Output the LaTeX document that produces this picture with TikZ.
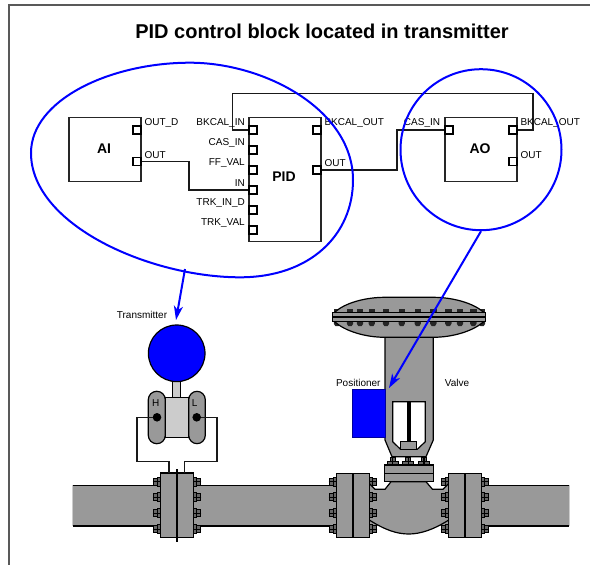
\documentclass[tikz,border=0pt]{standalone}
\usepackage{fontspec}
\setmainfont{Liberation Sans}
\definecolor{steel}{HTML}{999999}
\definecolor{lightsteel}{HTML}{CCCCCC}
\definecolor{boltgrey}{HTML}{666666}
\tikzset{
  fblock/.style={draw=black!85,fill=white,line width=1.2pt,inner sep=0pt,minimum width=72pt},
  port/.style={draw=black,fill=white,line width=1.1pt,inner sep=0pt,minimum size=8pt},
  wire/.style={draw=black!90,line width=1.2pt},
  blocktitle/.style={font=\fontsize{14}{14}\selectfont\bfseries,inner sep=0pt},
  lblL/.style={font=\fontsize{10}{10}\selectfont,anchor=east,inner sep=0pt},
  lblR/.style={font=\fontsize{10}{10}\selectfont,anchor=west,inner sep=0pt},
  plain/.style={font=\fontsize{10}{10}\selectfont,inner sep=0pt},
  blueline/.style={draw=blue,line width=2pt},
  bluearrow/.style={draw=blue,line width=2pt,-{Stealth[length=14pt,width=9pt,inset=4pt]}},
  metal/.style={draw=black,fill=steel,line width=1.2pt},
  sidebolt/.pic={
    \draw[black,line width=1.2pt,fill=boltgrey] (0,-4.5) rectangle (-3.5,4.5);
    \draw[black,line width=1.2pt,fill=boltgrey] (-3.5,-3.5) rectangle (-7.5,3.5);
    \draw[black,line width=1.2pt] (-8,0) -- (0,0);
  },
  topbolt/.pic={
    \draw[black,line width=1.1pt,fill=boltgrey] (-5.5,0) rectangle (5.5,-3.5);
    \draw[black,line width=1.1pt,fill=boltgrey] (-2.5,-3.5) rectangle (2.5,-7.5);
    \draw[black,line width=1.1pt] (0,-8) -- (0,0);
  },
  diabolt/.pic={
    \fill[black!85] (-3.2,-3.8) rectangle (3.2,-1.2);
    \fill[black!85] (-1.2,-1.5) rectangle (1.2,0);
    \fill[black!85] (-3.2,8.6) -- (3.2,8.6) -- (3.2,11) -- (1.6,13.5) -- (-1.6,13.5) -- (-3.2,11) -- cycle;
  },
}
\usetikzlibrary{arrows.meta}
\begin{document}
\begin{tikzpicture}[x=1pt,y=-1pt]
\useasboundingbox (0,0) rectangle (590,565);
% frame
\draw[black!65,line width=2pt] (8.5,565) -- (8.5,5) -- (590,5);
\node[font=\fontsize{20}{20}\selectfont\bfseries,inner sep=0pt] (title) at (322,31.5) {PID control block located in transmitter};

% function blocks
\node[fblock,minimum height=64pt] (ai) at (105,149.8) {};
\node[fblock,minimum height=124pt] (pid) at (285,179.8) {};
\node[fblock,minimum height=64pt] (ao) at (481,149.8) {};
\node[blocktitle] (aitxt) at (104,149) {AI};
\node[blocktitle] (pidtxt) at (284,177) {PID};
\node[blocktitle] (aotxt) at (480,149) {AO};

% ports
\node[port] (aiD) at (137,130) {};
\node[port] (aiO) at (137,161.7) {};
\node[port] (pidBK) at (253,130) {};
\node[port] (pidCAS) at (253,150) {};
\node[port] (pidFF) at (253,170) {};
\node[port] (pidIN) at (253,190) {};
\node[port] (pidTD) at (253,210) {};
\node[port] (pidTV) at (253,230) {};
\node[port] (pidBO) at (317,130) {};
\node[port] (pidO) at (317,170) {};
\node[port] (aoCAS) at (449,130) {};
\node[port] (aoBO) at (513,130) {};
\node[port] (aoO) at (513,161.7) {};

% wires
\coordinate (w1a) at (189,161.7);
\coordinate (w1b) at (189,190);
\draw[wire] (aiO.east) -- (w1a) -- (w1b) -- (pidIN.west);
\coordinate (w2a) at (397,170);
\coordinate (w2b) at (397,130);
\draw[wire] (pidO.east) -- (w2a) -- (w2b) -- (aoCAS.west);
\coordinate (w3a) at (533,130);
\coordinate (w3b) at (533,93.5);
\coordinate (w3c) at (232.7,93.5);
\coordinate (w3d) at (232.7,130);
\draw[wire] (aoBO.east) -- (w3a) -- (w3b) -- (w3c) -- (w3d) -- (pidBK.west);

% labels
\node[lblR] (l1) at (144.3,122.7) {OUT\_D};
\node[lblR] (l2) at (144.3,154.7) {OUT};
\node[lblL] (l3) at (245,122.7) {BKCAL\_IN};
\node[lblL] (l4) at (245,142.7) {CAS\_IN};
\node[lblL] (l5) at (245,162.7) {FF\_VAL};
\node[lblL] (l6) at (245,182.7) {IN};
\node[lblL] (l7) at (245,202.7) {TRK\_IN\_D};
\node[lblL] (l8) at (245,222.7) {TRK\_VAL};
\node[lblR] (l9) at (324.3,122.7) {BKCAL\_OUT};
\node[lblR] (l10) at (324.3,162.7) {OUT};
\node[lblL] (l11) at (440.3,122.7) {CAS\_IN};
\node[lblR] (l12) at (520.3,122.7) {BKCAL\_OUT};
\node[lblR] (l13) at (520.3,154.7) {OUT};

% pipe
\fill[steel] (72.7,485.3) rectangle (569,526);
\draw[black,line width=1.2pt] (72.7,485.3) -- (369,485.3);
\draw[black,line width=1.2pt] (448,485.3) -- (569,485.3);
\draw[black,line width=1.2pt] (72.7,526) -- (369,526);
\draw[black,line width=1.2pt] (448,526) -- (569,526);
\draw[lightsteel,line width=.8pt] (72.7,485.3) -- (72.7,526);
\draw[lightsteel,line width=.8pt] (569,485.3) -- (569,526);

% orifice flange bolts
\foreach \yy in {481.7,497.3,513.3,529.3}{
  \pic at (160.7,\yy) {sidebolt};
  \pic[xscale=-1] at (193.3,\yy) {sidebolt};
  \pic at (336.7,\yy) {sidebolt};
  \pic at (448.7,\yy) {sidebolt};
  \pic[xscale=-1] at (369.3,\yy) {sidebolt};
  \pic[xscale=-1] at (481.3,\yy) {sidebolt};
}
% orifice flange
\draw[metal] (160.7,473) rectangle (193.3,537.7);
\draw[black,line width=2.2pt] (177,469) -- (177,542);

% valve body: white notch, then body
\fill[white] (369.8,473) rectangle (448.2,489);
\pic[xscale=-1] at (369.3,481.7) {sidebolt};
\pic at (448.7,481.7) {sidebolt};
\draw[metal] (369.3,483.5) -- (375,489.3) -- (385,489.3) -- (391,481.7) -- (426,481.7) -- (432.5,489.3) -- (443,489.3) -- (448.7,483.5)
  -- (448.7,520) .. controls (433,530) and (420,534) .. (408.7,534) .. controls (397,534) and (385,530) .. (369.3,520) -- cycle;
\foreach \yy in {497.3,513.3,529.3}{
  \pic[xscale=-1] at (369.3,\yy) {sidebolt};
  \pic at (448.7,\yy) {sidebolt};
}
% valve flanges
\draw[metal] (336.7,473.3) rectangle (369.3,537.7);
\draw[black,line width=1.2pt] (353,473.3) -- (353,537.7);
\draw[metal] (448.7,473.3) rectangle (481.3,537.7);
\draw[black,line width=1.2pt] (465,473.3) -- (465,537.7);

% bonnet
\foreach \xx in {392.7,408.3,424}{ \pic at (\xx,465) {topbolt}; }
\draw[metal] (384.3,465) rectangle (433.3,481.7);
\draw[black,line width=1.2pt] (384.3,473.3) -- (433.3,473.3);

% yoke
\draw[metal] (385,337.3) -- (433.3,337.3) -- (433.3,440) -- (426,456.7) -- (392,456.7) -- (385,440) -- cycle;
\draw[black,fill=white,line width=1.2pt] (392.7,401.7) -- (425.3,401.7) -- (425.3,441.7) -- (417.3,449.3) -- (400.5,449.3) -- (392.7,441.7) -- cycle;
\fill[black] (406.7,401.7) rectangle (411,442);
\draw[metal] (400.7,441.7) rectangle (416.7,449.3);

% diaphragm
\foreach \xx in {337,350,360,371.7,386,401.7,417.7,433.3,448.3,460,473.3,482}{
  \pic at (\xx,312.7) {diabolt};
}
\draw[metal] (335,312) .. controls (345,303) and (365,297.3) .. (385,297.3) -- (433,297.3) .. controls (453,297.3) and (473,303) .. (483.3,312)
  -- (483.3,322) .. controls (473,331) and (453,337.3) .. (433,337.3) -- (385,337.3) .. controls (365,337.3) and (345,331) .. (335,322) -- cycle;
\foreach \xx in {350,360,371.7,386,401.7,417.7,433.3,448.3,460,473.3}{
  \pic at (\xx,312.7) {diabolt};
}
\draw[black,fill=steel,line width=1.2pt] (332.3,312.7) rectangle (485.7,321.3);
\draw[black,line width=1.2pt] (332.3,317) -- (485.7,317);

% positioner
\node[draw=black!40!blue,fill=blue,line width=.6pt,inner sep=0pt,minimum width=32.7pt,minimum height=48.4pt] (pos) at (368.7,413.5) {};
\node[plain] (postxt) at (358.3,382.7) {Positioner};
\node[plain] (valvetxt) at (457,382.7) {Valve};

% transmitter
\node[plain] (trtxt) at (142,315) {Transmitter};
\draw[black,fill=lightsteel,line width=1.2pt] (172.7,378) rectangle (180.7,398);
\node[draw=black,fill=blue,circle,line width=1.2pt,inner sep=0pt,minimum size=56.6pt] (trhead) at (176.7,353.3) {};
\draw[black,fill=lightsteel,line width=1.2pt] (165.3,397.3) rectangle (188.7,437.7);
\draw[metal,rounded corners=8.4pt] (148.3,391.3) rectangle (165.3,443.7);
\draw[metal,rounded corners=8.4pt] (188.7,391.3) rectangle (205.3,443.7);
\node[plain] (htxt) at (155.7,403) {H};
\node[plain] (ltxt) at (194.7,403) {L};
\node[fill=black,circle,inner sep=0pt,minimum size=8.6pt] (hp) at (157,417.3) {};
\node[fill=black,circle,inner sep=0pt,minimum size=8.6pt] (lp) at (196.7,417.3) {};
\coordinate (h1) at (137,417.3);
\coordinate (h2) at (137,461.7);
\coordinate (h3) at (169,461.7);
\coordinate (h4) at (169,473);
\coordinate (l1a) at (217,417.3);
\coordinate (l2a) at (217,461.7);
\coordinate (l3a) at (184.7,461.7);
\coordinate (l4a) at (184.7,473);
\draw[wire] (hp) -- (h1) -- (h2) -- (h3) -- (h4);
\draw[wire] (lp) -- (l1a) -- (l2a) -- (l3a) -- (l4a);

% blue callouts
\draw[blueline] (31,153) .. controls (31,100) and (110,62.7) .. (190,62.7)
  .. controls (265,62.7) and (353,110) .. (353,180)
  .. controls (353,235) and (310,277.3) .. (240,277.3)
  .. controls (150,277.3) and (31,225) .. (31,153) -- cycle;
\node[draw=blue,line width=2pt,circle,inner sep=0pt,minimum size=161pt] (aocircle) at (481,149.7) {};
\coordinate (blobfoot) at (185,269);
\coordinate (trtip) at (176,320);
\coordinate (postip) at (389,388);
\draw[bluearrow] (blobfoot) -- (trtip);
\draw[bluearrow] (aocircle.south) -- (postip);
\end{tikzpicture}
\end{document}
